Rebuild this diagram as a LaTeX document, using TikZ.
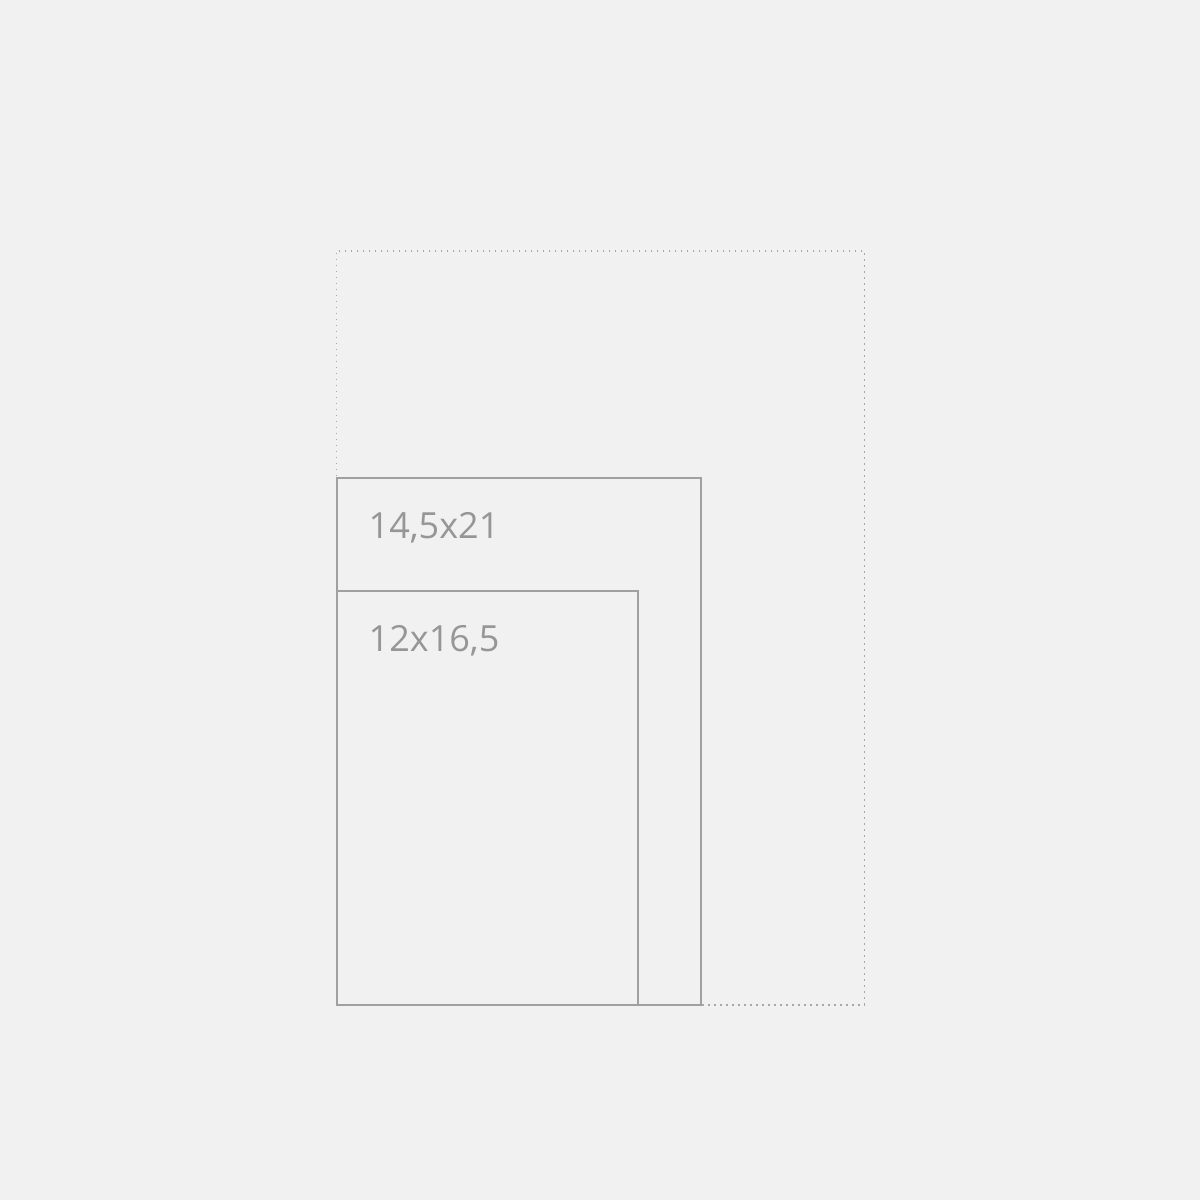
\documentclass[tikz,border=0pt]{standalone}
\usepackage{fontspec}
\setmainfont{Open Sans}
\usetikzlibrary{positioning}
\definecolor{bgcol}{HTML}{F1F1F1}
\definecolor{framecol}{HTML}{A0A0A0}
\definecolor{dotcol}{HTML}{A8A8A8}
\definecolor{labelcol}{HTML}{969696}
\tikzset{
    sheet/.style={rectangle, draw=framecol, line width=2pt, inner sep=0pt, anchor=south west},
    maxsheet/.style={rectangle, draw=dotcol, line width=1.6pt, dash pattern=on 1.6pt off 4.4pt, inner sep=0pt, anchor=south west},
    sizelabel/.style={text=labelcol, font=\fontsize{36}{40}\selectfont, inner sep=0pt, anchor=base west},
}
\begin{document}
\begin{tikzpicture}[x=1pt, y=-1pt]
    \fill[bgcol] (0,0) rectangle (1200,1200);
    \useasboundingbox (0,0) rectangle (1200,1200);
    \node [maxsheet, minimum width=528pt, minimum height=754pt] (max) at (335.5,1005.5) {};
    \node [sheet, minimum width=364pt, minimum height=527pt] (big) at (335.5,1005.5) {};
    \node [sheet, minimum width=301pt, minimum height=414pt] (small) at (335.5,1005.5) {};
    \node [sizelabel] (bigtext) at (368.5,538) {14,5x21};
    \node [sizelabel] (smalltext) at (368.5,651) {12x16,5};
\end{tikzpicture}
\end{document}
